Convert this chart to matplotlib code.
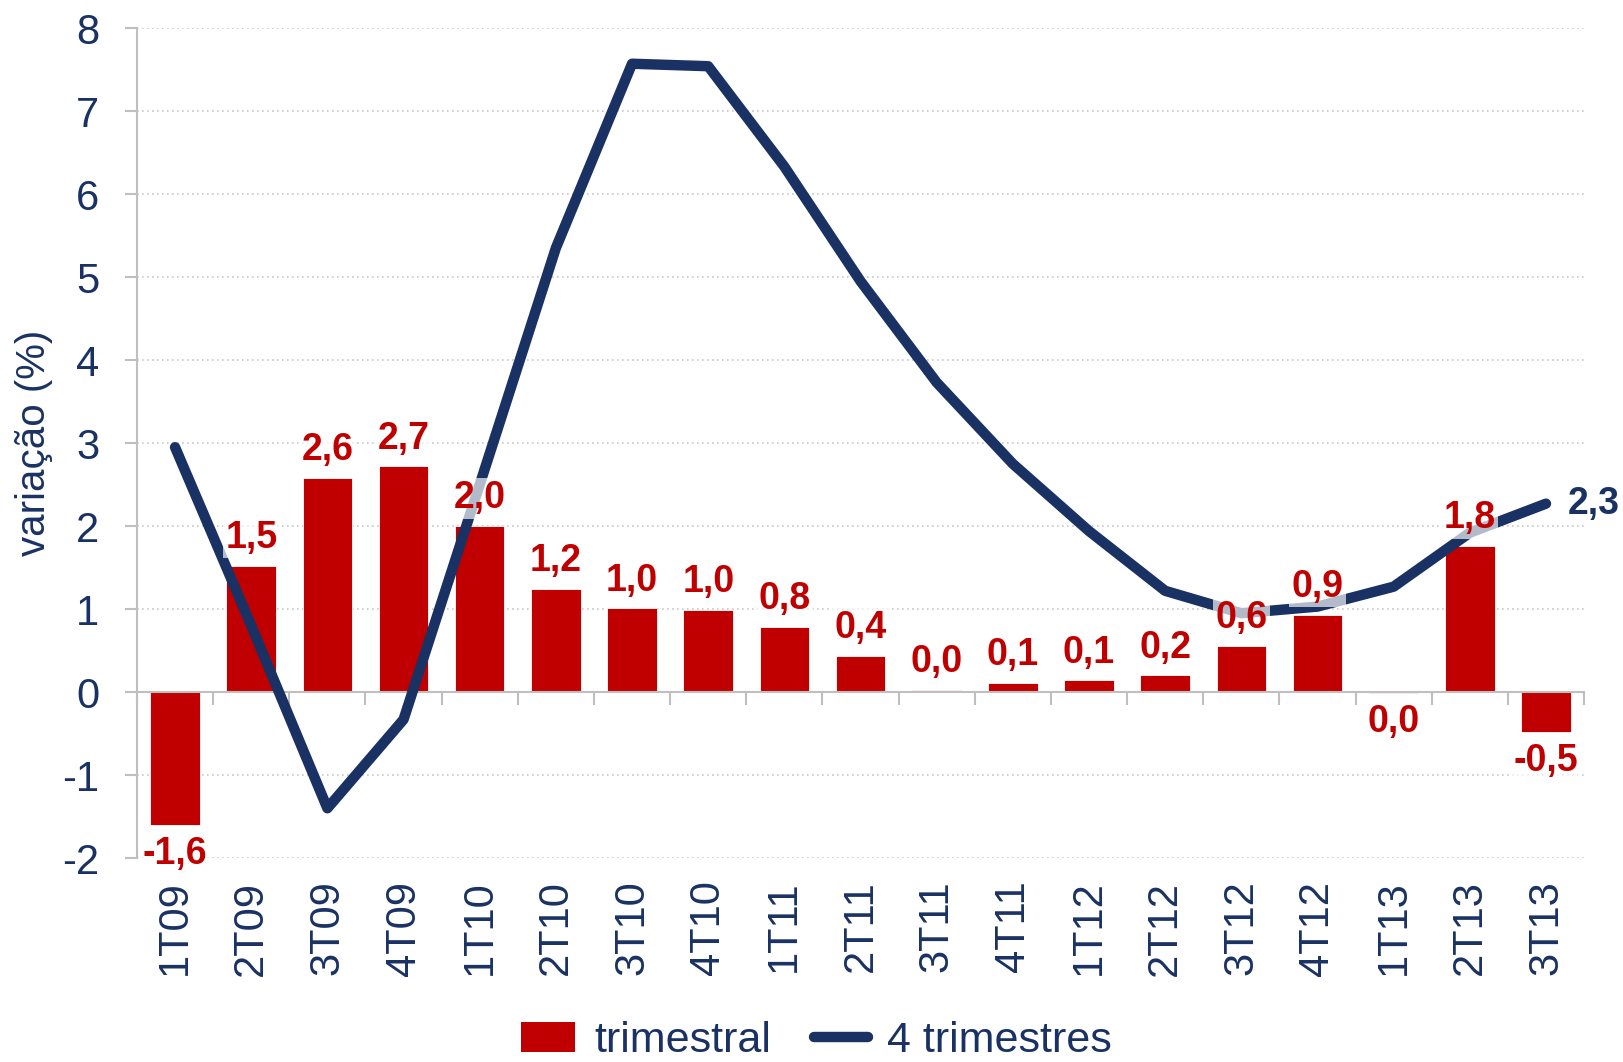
import matplotlib
matplotlib.use("Agg")
import matplotlib.pyplot as plt
from matplotlib.patches import Patch
from matplotlib.lines import Line2D

plt.rcParams['font.family'] = ['Liberation Sans', 'DejaVu Sans']

categories = ["1T09", "2T09", "3T09", "4T09", "1T10", "2T10", "3T10", "4T10",
              "1T11", "2T11", "3T11", "4T11", "1T12", "2T12", "3T12", "4T12",
              "1T13", "2T13", "3T13"]
trimestral = [-1.6, 1.52, 2.58, 2.72, 2.0, 1.24, 1.01, 0.99, 0.79, 0.44, 0.03,
              0.11, 0.14, 0.2, 0.56, 0.93, -0.01, 1.76, -0.48]
quatro_trim = [2.95, 0.8, -1.4, -0.33, 2.5, 5.35, 7.57, 7.54, 6.33, 4.95, 3.73,
               2.75, 1.94, 1.22, 0.95, 1.03, 1.27, 1.92, 2.27]
y_ticks = [-2, -1, 0, 1, 2, 3, 4, 5, 6, 7, 8]

RED = '#C00000'
NAVY = '#1A3263'
GRAY = '#BFBFBF'

fig = plt.figure(figsize=(16.23, 10.62), dpi=100)
ax = fig.add_axes([0.0844, 0.192, 0.8916, 0.7816])

x = list(range(len(categories)))
ax.bar(x, trimestral, width=0.65, color=RED, edgecolor='white', linewidth=0.6, zorder=2)
ax.plot(x, quatro_trim, color=NAVY, lw=7.5, solid_capstyle='round',
        solid_joinstyle='round', zorder=3)

def fmt(v):
    s = f"{abs(v):.1f}" if abs(v) < 0.05 else f"{v:.1f}"
    return s.replace('.', ',')

box = dict(facecolor='white', alpha=0.67, edgecolor='none', pad=1.5)
for xi, v in zip(x, trimestral):
    if v >= 0:
        ax.annotate(fmt(v), (xi, v), xytext=(0, 7), textcoords='offset points',
                    ha='center', va='bottom', fontsize=27, fontweight='bold',
                    color=RED, bbox=box, zorder=5)
    else:
        ax.annotate(fmt(v), (xi, v), xytext=(0, -8), textcoords='offset points',
                    ha='center', va='top', fontsize=27, fontweight='bold',
                    color=RED, bbox=box, zorder=5)

ax.annotate(fmt(quatro_trim[-1]), (x[-1], quatro_trim[-1]), xytext=(16, 0),
            textcoords='offset points', ha='left', va='center', fontsize=27,
            fontweight='bold', color=NAVY, zorder=5, annotation_clip=False)

ax.set_xlim(-0.5, len(categories) - 0.5)
ax.set_ylim(-2, 8)
ax.set_yticks(y_ticks)
ax.set_yticklabels([str(t) for t in y_ticks])
ax.tick_params(axis='y', colors=GRAY, labelcolor=NAVY, labelsize=30,
               length=9, width=1.5, pad=18)
ax.yaxis.grid(True, linestyle=(0, (1, 2)), color='#C8C8C8', linewidth=1.2)
ax.set_axisbelow(True)

for s in ['top', 'right']:
    ax.spines[s].set_visible(False)
ax.spines['left'].set_color(GRAY)
ax.spines['left'].set_linewidth(1.5)
ax.spines['bottom'].set_position(('data', 0))
ax.spines['bottom'].set_color(GRAY)
ax.spines['bottom'].set_linewidth(1.5)
ax.set_xticks([i + 0.5 for i in range(-1, len(categories))])
ax.set_xticklabels([])
ax.tick_params(axis='x', direction='out', colors=GRAY, length=9, width=1.5)

for xi, c in zip(x, categories):
    ax.text(xi, -0.027, c, transform=ax.get_xaxis_transform(), rotation=90,
            ha='center', va='top', fontsize=30, color=NAVY)

ax.set_ylabel('variação (%)', fontsize=29, color=NAVY)
ax.yaxis.set_label_coords(-0.058, 0.5)

handles = [Patch(facecolor=RED, edgecolor='none'),
           Line2D([0], [0], color=NAVY, lw=7.5, solid_capstyle='round')]
fig.legend(handles, ['trimestral', '4 trimestres'], loc='center',
           bbox_to_anchor=(0.503, 0.02), ncol=2, frameon=False, fontsize=31,
           labelcolor=NAVY, handlelength=1.25, handletextpad=0.45,
           columnspacing=1.0)

fig.savefig('out.png', dpi=100)
